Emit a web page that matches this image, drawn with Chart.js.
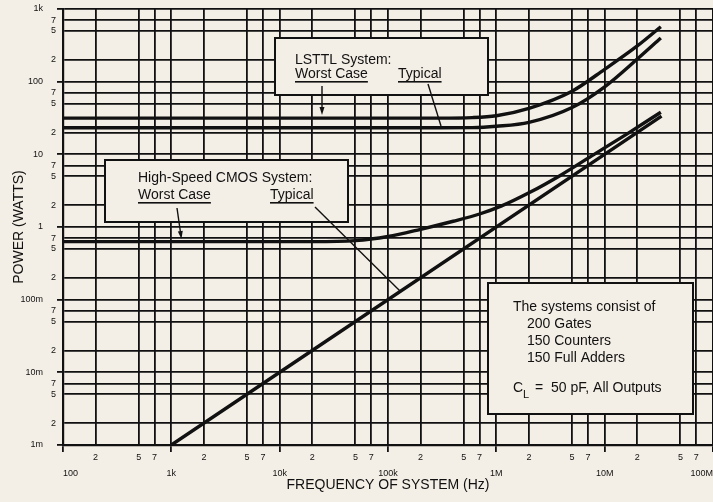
<!DOCTYPE html>
<html>
<head>
<meta charset="utf-8">
<script src="https://cdn.jsdelivr.net/npm/chart.js@4.4.1/dist/chart.umd.min.js"></script>
<style>
  html, body { margin: 0; padding: 0; background: #f4efe6; overflow: hidden; }
  #wrap { width: 713px; height: 502px; }
</style>
</head>
<body>
<div id="wrap"><canvas id="chart" width="713" height="502"></canvas></div>
<script>
const ink = '#111111';
const paper = '#f4efe6';
const fontFamily = '"Liberation Sans", Arial, Helvetica, sans-serif';

// axis ranges and labels
const freqMin = 100, freqMax = 1e8;
const powerMin = 1e-3, powerMax = 1e3;
const gridSteps = [1, 2, 5, 7];
const freqDecadeLabels = ['100', '1k', '10k', '100k', '1M', '10M', '100M'];
const powerDecadeLabels = ['1m', '10m', '100m', '1', '10', '100', '1k'];

// LSTTL system
const lsttlFreq = [100, 3e5, 6e5, 1e6, 2e6, 5e6, 1e7, 2e7, 3.3e7];
const lsttlWorst = [31.5, 31.5, 32, 34, 43, 74, 148, 310, 570];
const lsttlTypical = [23.2, 23.2, 23.3, 24.3, 27.5, 44, 85, 205, 400];

// High-speed CMOS system
const cmosFreq = [100, 2e4, 5e4, 1e5, 2e5, 4e5, 7e5, 1.12e6, 2e6, 4e6, 8e6, 1.6e7, 3.3e7];
const cmosWorst = [0.63, 0.63, 0.65, 0.74, 0.93, 1.2, 1.51, 1.95, 2.95, 5.25, 10, 19, 38];
const cmosTypFreq = [1e3, 3.35e7];
const cmosTypical = [1e-3, 33.5];

function splitValue(v) {
  const e = Math.floor(Math.log10(v) + 1e-9);
  return { e: e, m: Math.round(v / Math.pow(10, e)) };
}

function gridTicks(min, max) {
  const out = [];
  for (let e = Math.round(Math.log10(min)); e <= Math.round(Math.log10(max)); e++) {
    gridSteps.forEach(m => {
      const v = m * Math.pow(10, e);
      if (v <= max * 1.0001) out.push({ value: v });
    });
  }
  return out;
}

function decadeTicks(min, max) {
  const out = [];
  for (let e = Math.round(Math.log10(min)); e <= Math.round(Math.log10(max)); e++) {
    out.push({ value: Math.pow(10, e) });
  }
  return out;
}

function minorLabel(v) {
  const s = splitValue(v);
  return s.m === 1 ? '' : String(s.m);
}

function isDecade(v) {
  return splitValue(v).m === 1;
}

function curve(label, xs, ys) {
  return {
    label: label,
    data: xs.map((x, i) => ({ x: x, y: ys[i] })),
    borderColor: ink,
    borderWidth: 3.4,
    pointRadius: 0,
    fill: false,
    cubicInterpolationMode: 'monotone'
  };
}

// boxes, texts and arrows of the figure
function drawArrow(ctx, x0, y0, x1, y1, head) {
  ctx.beginPath();
  ctx.moveTo(x0, y0);
  ctx.lineTo(x1, y1);
  ctx.stroke();
  if (head) {
    const a = Math.atan2(y1 - y0, x1 - x0);
    ctx.beginPath();
    ctx.moveTo(x1 + Math.cos(a) * 3, y1 + Math.sin(a) * 3);
    ctx.lineTo(x1 - Math.cos(a) * 5 + Math.sin(a) * 2.5, y1 - Math.sin(a) * 5 - Math.cos(a) * 2.5);
    ctx.lineTo(x1 - Math.cos(a) * 5 - Math.sin(a) * 2.5, y1 - Math.sin(a) * 5 + Math.cos(a) * 2.5);
    ctx.closePath();
    ctx.fill();
  }
}

function underlined(ctx, text, x, y) {
  ctx.fillText(text, x, y);
  const w = ctx.measureText(text).width;
  ctx.fillRect(x, y + 7, w, 1.6);
}

function panel(ctx, x0, y0, x1, y1) {
  ctx.fillStyle = paper;
  ctx.fillRect(x0, y0, x1 - x0, y1 - y0);
  ctx.strokeRect(x0, y0, x1 - x0, y1 - y0);
  ctx.fillStyle = ink;
}

const notes = {
  id: 'notes',
  afterDatasetsDraw(chart) {
    const ctx = chart.ctx;
    ctx.save();
    ctx.strokeStyle = ink;
    ctx.fillStyle = ink;
    ctx.lineWidth = 2;
    ctx.font = '14px ' + fontFamily;
    ctx.textBaseline = 'middle';
    ctx.textAlign = 'left';

    // LSTTL
    panel(ctx, 275, 38, 488, 95);
    ctx.fillText('LSTTL System:', 295, 60);
    underlined(ctx, 'Worst Case', 295, 74);
    underlined(ctx, 'Typical', 398, 74);
    ctx.lineWidth = 1.4;
    drawArrow(ctx, 322, 86, 322, 112, true);
    drawArrow(ctx, 428, 84, 441, 126, false);

    // CMOS
    ctx.lineWidth = 2;
    panel(ctx, 105, 160, 348, 222);
    ctx.fillText('High-Speed CMOS System:', 138, 178);
    underlined(ctx, 'Worst Case', 138, 195);
    underlined(ctx, 'Typical', 270, 195);
    ctx.lineWidth = 1.4;
    drawArrow(ctx, 177, 208, 181, 236, true);
    drawArrow(ctx, 315, 207, 400, 291, false);

    // conditions
    ctx.lineWidth = 2;
    panel(ctx, 488, 283, 693, 414);
    ctx.fillText('The systems consist of', 513, 307);
    ctx.fillText('200 Gates', 527, 324);
    ctx.fillText('150 Counters', 527, 341);
    ctx.fillText('150 Full Adders', 527, 358);
    ctx.fillText('C', 513, 388);
    const cw = ctx.measureText('C').width;
    ctx.font = '11px ' + fontFamily;
    ctx.fillText('L', 513 + cw, 395);
    const lw = ctx.measureText('L').width;
    ctx.font = '14px ' + fontFamily;
    ctx.fillText(' =  50 pF, All Outputs', 515 + cw + lw, 388);
    ctx.restore();
  }
};

const tickFont = { family: fontFamily, size: 9 };
const titleFont = { family: fontFamily, size: 14 };

new Chart(document.getElementById('chart'), {
  type: 'line',
  data: {
    datasets: [
      curve('LSTTL Worst Case', lsttlFreq, lsttlWorst),
      curve('LSTTL Typical', lsttlFreq, lsttlTypical),
      curve('CMOS Worst Case', cmosFreq, cmosWorst),
      curve('CMOS Typical', cmosTypFreq, cmosTypical)
    ]
  },
  options: {
    responsive: false,
    animation: false,
    layout: { padding: { top: 9, right: 0, bottom: 0, left: 0 } },
    plugins: { legend: { display: false }, tooltip: { enabled: false } },
    scales: {
      x: {
        type: 'logarithmic', position: 'bottom', weight: 0,
        min: freqMin, max: freqMax,
        afterBuildTicks: s => { s.ticks = gridTicks(freqMin, freqMax); },
        afterFit: s => { s.height = 23; },
        grid: {
          color: ink, lineWidth: 1.8, tickLength: 7, tickWidth: 1.8,
          tickColor: c => (c.tick && isDecade(c.tick.value)) ? ink : 'rgba(0,0,0,0)'
        },
        border: { color: ink, width: 2.2 },
        ticks: {
          autoSkip: false, maxRotation: 0, padding: 0, color: ink, font: tickFont,
          callback: v => minorLabel(v)
        }
      },
      xLab: {
        type: 'logarithmic', position: 'bottom', weight: 1,
        min: freqMin, max: freqMax,
        afterBuildTicks: s => { s.ticks = decadeTicks(freqMin, freqMax); },
        afterFit: s => { s.height = 34; },
        grid: { display: false, drawTicks: false },
        border: { display: false },
        ticks: {
          autoSkip: false, maxRotation: 0, padding: 0, align: 'inner', color: ink, font: tickFont,
          callback: v => freqDecadeLabels[splitValue(v).e - 2]
        },
        title: {
          display: true, text: 'FREQUENCY OF SYSTEM (Hz)', color: ink, font: titleFont,
          padding: { top: 0, bottom: 8 }
        }
      },
      y: {
        type: 'logarithmic', position: 'left', weight: 0,
        min: powerMin, max: powerMax,
        afterBuildTicks: s => { s.ticks = gridTicks(powerMin, powerMax); },
        afterFit: s => { s.width = 20; },
        grid: {
          color: ink, lineWidth: 1.8, tickLength: 6, tickWidth: 1.8,
          tickColor: c => (c.tick && isDecade(c.tick.value)) ? ink : 'rgba(0,0,0,0)'
        },
        border: { color: ink, width: 2.2 },
        ticks: {
          autoSkip: false, padding: 1, color: ink, font: tickFont,
          callback: v => minorLabel(v)
        }
      },
      yLab: {
        type: 'logarithmic', position: 'left', weight: 1,
        min: powerMin, max: powerMax,
        afterBuildTicks: s => { s.ticks = decadeTicks(powerMin, powerMax); },
        afterFit: s => { s.width = 43; },
        grid: { display: false, drawTicks: false },
        border: { display: false },
        ticks: {
          autoSkip: false, padding: 0, color: ink, font: tickFont,
          callback: v => powerDecadeLabels[splitValue(v).e + 3]
        },
        title: {
          display: true, text: 'POWER (WATTS)', color: ink, font: titleFont,
          padding: { top: 11, bottom: 0 }
        }
      }
    }
  },
  plugins: [notes]
});
</script>
</body>
</html>
